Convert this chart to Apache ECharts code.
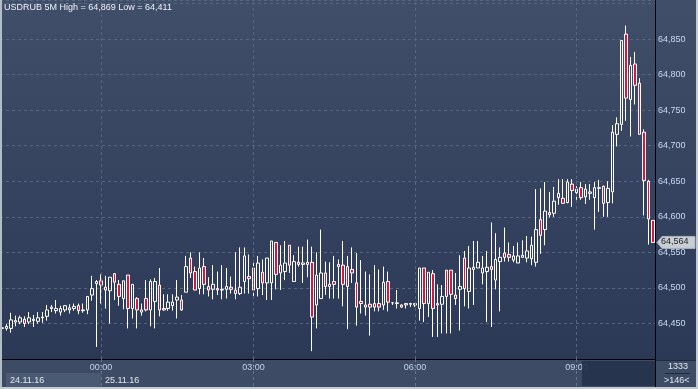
<!DOCTYPE html>
<html><head><meta charset="utf-8">
<script src="https://cdn.jsdelivr.net/npm/echarts@6/dist/echarts.min.js"></script>
<style>html,body{margin:0;padding:0;background:#2b3957}#c{width:698px;height:389px}</style>
</head><body><div id="c"></div>
<script>
const titleText = 'USDRUB 5M High = 64,869 Low = 64,411';
const startTime = '22:10';
const gapSlots = ['01:30', '01:35'];
const labelTimes = ['00:00', '03:00', '06:00', '09:00'];
const dateLabels = ['24.11.16', '25.11.16'];
const footerTop = '1333';
const footerBottom = '>146<';

const opens = [64.443,64.443,64.443,64.452,64.452,64.456,64.452,64.454,64.453,64.458,
64.460,64.471,64.468,64.466,64.469,64.469,64.471,64.475,64.468,64.469,
64.490,64.506,64.510,64.501,64.496,64.520,64.505,64.485,64.518,64.471,
64.485,64.466,64.485,64.469,64.481,64.504,64.471,64.471,64.475,64.483,
64.483,64.494,64.542,64.523,64.499,64.530,64.502,64.498,64.499,64.497,
64.498,64.501,64.497,64.492,64.509,64.516,64.528,64.499,64.522,64.507,
64.507,64.564,64.521,64.523,64.560,64.509,64.536,64.533,64.536,64.536,
64.476,64.485,64.521,64.502,64.509,64.533,64.532,64.530,64.526,64.507,
64.481,64.476,64.477,64.478,64.478,64.476,64.509,64.479,64.478,64.476,
64.478,64.477,64.476,64.471,64.528,64.478,64.520,64.478,64.477,64.525,
64.525,64.490,64.498,64.542,64.495,64.526,64.528,64.521,64.523,64.530,
64.511,64.537,64.549,64.547,64.539,64.535,64.543,64.542,64.541,64.536,
64.596,64.582,64.606,64.605,64.627,64.626,64.620,64.646,64.634,64.641,
64.628,64.633,64.627,64.640,64.643,64.620,64.635,64.716,64.730,64.857,
64.765,64.815,64.788,64.719,64.650,64.595];
const highs = [64.446,64.449,64.465,64.461,64.461,64.460,64.466,64.462,64.466,64.466,
64.476,64.476,64.483,64.475,64.476,64.477,64.478,64.478,64.478,64.488,
64.517,64.511,64.519,64.517,64.515,64.521,64.511,64.510,64.518,64.505,
64.487,64.478,64.511,64.512,64.514,64.528,64.491,64.491,64.491,64.511,
64.490,64.545,64.550,64.530,64.550,64.542,64.515,64.532,64.523,64.532,
64.528,64.516,64.550,64.557,64.557,64.547,64.536,64.545,64.540,64.542,
64.566,64.564,64.560,64.566,64.560,64.546,64.558,64.558,64.568,64.558,
64.550,64.582,64.537,64.536,64.545,64.540,64.566,64.545,64.557,64.549,
64.539,64.523,64.519,64.532,64.526,64.530,64.523,64.480,64.497,64.477,
64.478,64.479,64.478,64.528,64.528,64.522,64.525,64.505,64.504,64.525,
64.525,64.521,64.546,64.552,64.559,64.566,64.566,64.545,64.552,64.592,
64.577,64.557,64.585,64.564,64.559,64.564,64.567,64.573,64.572,64.639,
64.640,64.649,64.635,64.642,64.653,64.653,64.653,64.653,64.643,64.649,
64.646,64.646,64.649,64.652,64.644,64.650,64.729,64.740,64.848,64.869,
64.825,64.832,64.795,64.723,64.652,64.595];
const lows = [64.441,64.440,64.437,64.446,64.449,64.445,64.449,64.445,64.450,64.451,
64.454,64.466,64.464,64.461,64.466,64.464,64.468,64.463,64.465,64.463,
64.482,64.417,64.478,64.471,64.450,64.483,64.475,64.470,64.443,64.457,
64.443,64.461,64.467,64.446,64.443,64.460,64.468,64.468,64.468,64.457,
64.468,64.494,64.514,64.497,64.491,64.491,64.488,64.484,64.490,64.484,
64.485,64.492,64.484,64.490,64.492,64.492,64.488,64.488,64.490,64.483,
64.483,64.498,64.497,64.511,64.521,64.509,64.530,64.507,64.515,64.411,
64.443,64.485,64.490,64.485,64.485,64.485,64.474,64.442,64.507,64.447,
64.464,64.461,64.433,64.467,64.467,64.469,64.467,64.476,64.471,64.472,
64.471,64.473,64.473,64.454,64.452,64.459,64.431,64.431,64.436,64.436,
64.436,64.476,64.440,64.474,64.471,64.476,64.528,64.505,64.452,64.445,
64.498,64.467,64.537,64.537,64.536,64.535,64.542,64.536,64.532,64.530,
64.548,64.560,64.599,64.600,64.617,64.619,64.619,64.614,64.624,64.624,
64.618,64.624,64.582,64.607,64.600,64.600,64.619,64.699,64.721,64.735,
64.713,64.758,64.716,64.602,64.561,64.564];
const closes = [64.444,64.446,64.455,64.454,64.458,64.450,64.458,64.456,64.458,64.459,
64.469,64.473,64.471,64.471,64.475,64.472,64.474,64.468,64.469,64.488,
64.499,64.509,64.504,64.497,64.515,64.508,64.488,64.510,64.471,64.505,
64.469,64.469,64.469,64.509,64.509,64.469,64.469,64.480,64.480,64.487,
64.469,64.530,64.521,64.497,64.528,64.505,64.497,64.505,64.497,64.498,
64.502,64.498,64.492,64.501,64.545,64.513,64.497,64.535,64.507,64.542,
64.566,64.519,64.532,64.535,64.532,64.537,64.533,64.535,64.533,64.459,
64.518,64.521,64.502,64.505,64.505,64.530,64.505,64.502,64.521,64.473,
64.478,64.473,64.473,64.473,64.473,64.508,64.480,64.479,64.479,64.473,
64.476,64.478,64.478,64.528,64.478,64.522,64.471,64.476,64.488,64.488,
64.491,64.485,64.502,64.499,64.528,64.529,64.536,64.528,64.529,64.526,
64.540,64.543,64.543,64.543,64.545,64.545,64.546,64.552,64.560,64.582,
64.574,64.608,64.603,64.622,64.633,64.619,64.649,64.637,64.639,64.627,
64.639,64.635,64.641,64.641,64.619,64.640,64.719,64.731,64.848,64.767,
64.813,64.785,64.716,64.651,64.597,64.564];

// category labels (5-minute bars)
const times = [];
(function () {
  const p = startTime.split(':');
  let m = (+p[0]) * 60 + (+p[1]);
  while (times.length < opens.length) {
    const hh = Math.floor(m / 60) % 24, mm = m % 60;
    const s = String(hh).padStart(2, '0') + ':' + String(mm).padStart(2, '0');
    if (gapSlots.indexOf(s) < 0) times.push(s);
    m += 5;
  }
})();

const candleData = opens.map((o, i) => [o, closes[i], lows[i], highs[i]]);
const FONT = 'Liberation Sans, Arial, sans-serif';
const isLabel = (idx, val) => labelTimes.indexOf(val !== undefined ? val : times[idx]) >= 0;
const fmt = v => v.toFixed(3).replace('.', ',');

const chart = echarts.init(document.getElementById('c'), null, { renderer: 'canvas' });
chart.setOption({
  animation: false,
  backgroundColor: {
    type: 'linear', x: 0, y: 0, x2: 0, y2: 1,
    colorStops: [
      { offset: 0, color: '#404e69' },
      { offset: 0.925, color: '#2b3957' },
      { offset: 0.926, color: '#3d4b65' },
      { offset: 1, color: '#3d4b65' }
    ]
  },
  title: {
    text: titleText, left: 4, top: 3, padding: 0,
    textStyle: { fontSize: 9, color: '#eef2f8', fontWeight: 'normal', fontFamily: FONT }
  },
  grid: { left: 0, right: 43, top: 0, bottom: 30 },
  xAxis: {
    type: 'category', data: times, boundaryGap: true,
    axisLine: { show: true, lineStyle: { color: '#000000', width: 1 } },
    axisTick: { show: true, alignWithLabel: true, interval: isLabel, length: 29,
      lineStyle: { color: '#65758f', type: [3, 3] } },
    axisLabel: { interval: isLabel, margin: 4, fontSize: 9, color: '#c4d4ea', fontFamily: FONT },
    splitLine: { show: false }
  },
  yAxis: {
    type: 'value', position: 'right', min: 64.40, max: 64.905, interval: 0.05,
    axisLine: { show: true, lineStyle: { color: '#000000', width: 1 } },
    axisTick: { show: false },
    axisLabel: { margin: 3, fontSize: 9, color: '#c8daf0', fontFamily: FONT,
      formatter: v => (v < 64.42 || v > 64.88) ? '' : fmt(v) },
    splitLine: { show: true, lineStyle: { color: '#56667f', type: [3, 3], width: 1 } }
  },
  series: [{
    type: 'candlestick',
    data: candleData,
    barWidth: 3,
    itemStyle: {
      color: 'rgba(0,0,0,0)', color0: '#dc143c',
      borderColor: '#ffffff', borderColor0: '#ffffff', borderWidth: 1
    },
    markLine: {
      silent: true, symbol: 'none', label: { show: false },
      lineStyle: { color: '#56667f', type: [3, 3], width: 1 },
      data: labelTimes.map(t => ({ xAxis: t }))
    }
  }]
});

const last = closes[closes.length - 1];
const py = chart.convertToPixel({ yAxisIndex: 0 }, last);
const x00 = chart.convertToPixel({ xAxisIndex: 0 }, labelTimes[0]);
chart.setOption({
  graphic: [
    { type: 'rect', z: 50, shape: { x: 582, y: 361, width: 73, height: 25 }, style: { fill: 'rgba(37,50,76,0.92)' } },
    { type: 'rect', z: 50, shape: { x: 6, y: 373, width: x00 - 6, height: 14 }, style: { fill: '#4b5a73' } },
    { type: 'text', z: 51, left: 10, top: 376, style: { text: dateLabels[0], fill: '#e2e8f2', font: '9px ' + FONT } },
    { type: 'text', z: 51, left: x00 + 4, top: 376, style: { text: dateLabels[1], fill: '#e2e8f2', font: '9px ' + FONT } },
    { type: 'line', z: 52, shape: { x1: 655.5, y1: 360, x2: 655.5, y2: 387 }, style: { stroke: '#000000', lineWidth: 1 } },
    { type: 'line', z: 52, shape: { x1: 656, y1: 360.5, x2: 696, y2: 360.5 }, style: { stroke: '#1e2a40', lineWidth: 1 } },
    { type: 'text', z: 51, left: 668, top: 362, style: { text: footerTop, fill: '#e2e8f2', font: '9px ' + FONT } },
    { type: 'line', z: 52, shape: { x1: 665, y1: 373.5, x2: 690, y2: 373.5 }, style: { stroke: '#1e2a40', lineWidth: 1 } },
    { type: 'text', z: 51, left: 664, top: 376, style: { text: footerBottom, fill: '#e2e8f2', font: '9px ' + FONT } },
    { type: 'polygon', z: 60, shape: { points: [[657, py], [662, py - 6], [695, py - 6], [695, py + 6], [662, py + 6]] },
      style: { fill: '#c9ced6', stroke: '#aab2bd', lineWidth: 1 } },
    { type: 'text', z: 61, left: 661, top: py - 5, style: { text: fmt(last), fill: '#222222', font: '9px ' + FONT } },
    { type: 'rect', z: 70, shape: { x: 0, y: 0, width: 2, height: 389 }, style: { fill: '#b4bcc6' } },
    { type: 'rect', z: 70, shape: { x: 0, y: 387, width: 698, height: 2 }, style: { fill: '#c4cad2' } },
    { type: 'rect', z: 70, shape: { x: 696, y: 0, width: 2, height: 389 }, style: { fill: '#c4cad2' } }
  ]
});
</script></body></html>
